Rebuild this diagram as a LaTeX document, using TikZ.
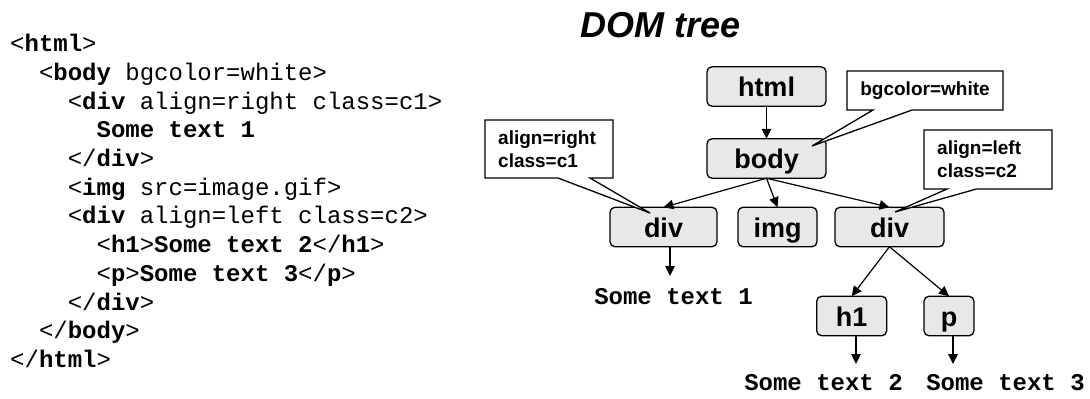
\documentclass[tikz,border=0pt]{standalone}
\usepackage{fontspec}
\setmainfont{Liberation Sans}
\newfontfamily\codefont{Liberation Mono}
\usetikzlibrary{arrows.meta,calc}
\definecolor{nodegray}{RGB}{232,232,232}
\begin{document}
\begin{tikzpicture}[x=1pt,y=-1pt,
  tnode/.style={draw, line width=1.3pt, rounded corners=5pt, fill=nodegray, minimum height=39.5pt, inner sep=0pt, outer sep=0pt, text height=20pt, text depth=0pt, font=\fontsize{27}{30}\selectfont\bfseries},
  arr/.style={-{Triangle[length=10pt,width=9.5pt]}, line width=1.2pt},
  code/.style={anchor=base west, inner sep=0pt, font=\codefont\fontsize{24}{28}\selectfont},
  callbox/.style={inner sep=0pt, outer sep=0pt},
  callline/.style={draw, fill=white, line width=1.3pt, line join=miter},
  calltext/.style={align=left, inner sep=0pt, font=\fontsize{19}{23}\selectfont\bfseries}]
\useasboundingbox[fill=white] (0,0) rectangle (1090,399);

% title
\node[font=\fontsize{36}{40}\selectfont\bfseries\itshape, anchor=base, inner sep=0pt] (title) at (661,37) {DOM tree};

% code listing
\node[code] (l1) at (10,51.7) {<\textbf{html}>};
\node[code] (l2) at (38.8,80.4) {<\textbf{body} bgcolor=white>};
\node[code] (l3) at (67.6,109.1) {<\textbf{div} align=right class=c1>};
\node[code] (l4) at (96.4,137.8) {\textbf{Some text 1}};
\node[code] (l5) at (67.6,166.5) {</\textbf{div}>};
\node[code] (l6) at (67.6,195.2) {<\textbf{img} src=image.gif>};
\node[code] (l7) at (67.6,223.9) {<\textbf{div} align=left class=c2>};
\node[code] (l8) at (96.4,252.6) {<\textbf{h1}>\textbf{Some text 2}</\textbf{h1}>};
\node[code] (l9) at (96.4,281.3) {<\textbf{p}>\textbf{Some text 3}</\textbf{p}>};
\node[code] (l10) at (67.6,310) {</\textbf{div}>};
\node[code] (l11) at (38.8,338.7) {</\textbf{body}>};
\node[code] (l12) at (10,367.4) {</\textbf{html}>};

% tree nodes
\node[tnode, minimum width=119pt] (html) at (766.5,86.5) {html};
\node[tnode, minimum width=119pt] (body) at (766.5,158.5) {body};
\node[tnode, minimum width=107pt] (div1) at (663.5,227) {div};
\node[tnode, minimum width=79pt] (img) at (777.5,227) {img};
\node[tnode, minimum width=109pt] (div2) at (889.5,227) {div};
\node[tnode, minimum width=70pt] (h1) at (851.7,316) {h1};
\node[tnode, minimum width=50pt] (p) at (949,316) {p};

% text leaves
\node[code, anchor=base] (t1) at (673.5,304) {\textbf{Some text 1}};
\node[code, anchor=base] (t2) at (823.5,390) {\textbf{Some text 2}};
\node[code, anchor=base] (t3) at (1005.5,390) {\textbf{Some text 3}};
\coordinate (e1) at (670,276);
\coordinate (e2) at (856,364);
\coordinate (e3) at (953,364);

% edges
\draw[arr] (html.south) -- (body.north);
\draw[arr] (body.south) -- (div1.north);
\draw[arr] (body.south) -- (img.north);
\draw[arr] (body.south) -- (div2.north);
\draw[arr] (div2.south) -- (h1.north);
\draw[arr] (div2.south) -- (p.north);
\draw[arr] (div1.south -| e1) -- (e1);
\draw[arr] (h1.south -| e2) -- (e2);
\draw[arr] (p.south -| e3) -- (e3);

% callouts
\node[callbox, minimum width=156pt, minimum height=39pt] (cb) at (925,90.5) {};
\coordinate (pb) at (812,146);
\draw[callline] (cb.north west) -- (cb.north east) -- (cb.south east)
  -- ($(cb.south west)!0.417!(cb.south east)$) -- (pb)
  -- ($(cb.south west)!0.167!(cb.south east)$) -- (cb.south west) -- cycle;
\node[calltext] (cbt) at (cb.center) {bgcolor=white};

\node[callbox, minimum width=128pt, minimum height=58pt] (c1) at (549,149) {};
\coordinate (p1) at (650,213);
\draw[callline] (c1.north west) -- (c1.north east) -- (c1.south east)
  -- ($(c1.south west)!0.82!(c1.south east)$) -- (p1)
  -- ($(c1.south west)!0.57!(c1.south east)$) -- (c1.south west) -- cycle;
\node[calltext, anchor=west] (c1t) at ($(c1.west)+(13,0)$) {align=right\\class=c1};

\node[callbox, minimum width=128pt, minimum height=59pt] (c2) at (988,159.5) {};
\coordinate (p2) at (895,212);
\draw[callline] (c2.north west) -- (c2.north east) -- (c2.south east)
  -- ($(c2.south west)!0.41!(c2.south east)$) -- (p2)
  -- ($(c2.south west)!0.18!(c2.south east)$) -- (c2.south west) -- cycle;
\node[calltext, anchor=west] (c2t) at ($(c2.west)+(13,0)$) {align=left\\class=c2};
\end{tikzpicture}
\end{document}
